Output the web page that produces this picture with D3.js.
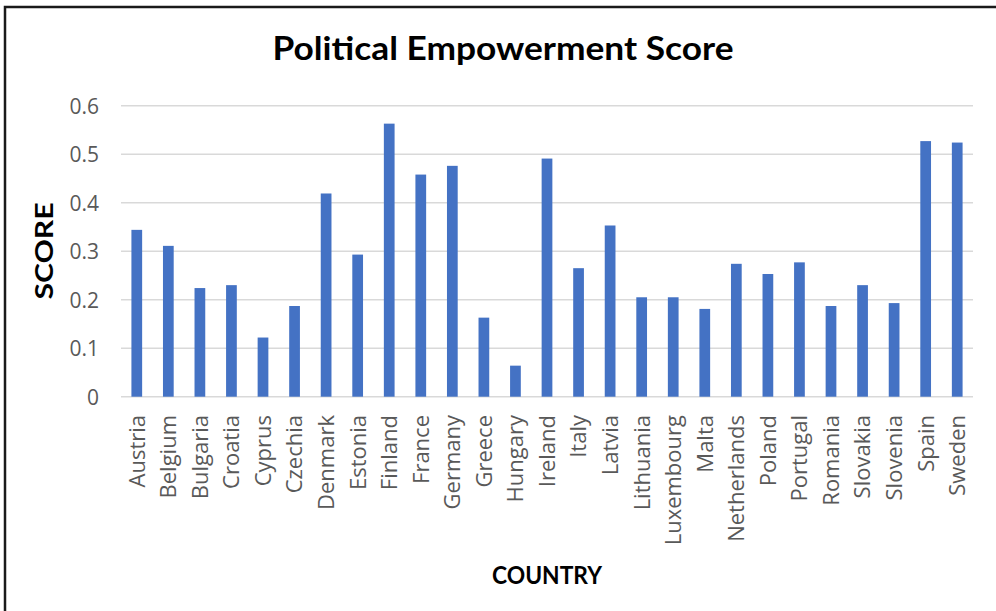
<!DOCTYPE html>
<html><head><meta charset="utf-8">
<script src="https://cdn.jsdelivr.net/npm/d3@7/dist/d3.min.js"></script>
<style>body{margin:0;background:#fff}svg{display:block}</style>
</head><body>
<script>
const countries = ["Austria","Belgium","Bulgaria","Croatia","Cyprus","Czechia","Denmark","Estonia","Finland","France","Germany","Greece","Hungary","Ireland","Italy","Latvia","Lithuania","Luxembourg","Malta","Netherlands","Poland","Portugal","Romania","Slovakia","Slovenia","Spain","Sweden"];
const scores = [0.344,0.311,0.224,0.230,0.122,0.187,0.419,0.293,0.563,0.458,0.476,0.163,0.064,0.491,0.265,0.353,0.205,0.205,0.181,0.274,0.253,0.277,0.187,0.230,0.193,0.527,0.524];
const yTicks = [0,0.1,0.2,0.3,0.4,0.5,0.6];
const title = "Political Empowerment Score";
const xTitle = "COUNTRY";
const yTitle = "SCORE";

const W = 996, H = 611;
const svg = d3.select("body").append("svg").attr("width", W).attr("height", H);

// frame (left and top edges)
svg.append("path").attr("d", `M5,${H} L5,7 L${W},7`).attr("fill","none").attr("stroke","#1a1a1a").attr("stroke-width",2.5);

const x = d3.scaleBand().domain(countries).range([121, 973]).paddingInner(0.66).paddingOuter(0.33);
const y = d3.scaleLinear().domain([0, 0.6]).range([396.7, 105.7]);

// gridlines
svg.append("g").selectAll("line").data(yTicks).join("line")
  .attr("x1", 121).attr("x2", 973)
  .attr("y1", d => y(d)).attr("y2", d => y(d))
  .attr("stroke", "#d9d9d9").attr("stroke-width", 1.5);

// y axis labels
const yAxis = d3.axisLeft(y).tickValues(yTicks).tickSize(0).tickPadding(0)
  .tickFormat(d => d === 0 ? "0" : d3.format(".1f")(d));
const gy = svg.append("g").attr("transform", "translate(99,0)").call(yAxis);
gy.select(".domain").remove();
gy.selectAll("text").attr("font-family","'Open Sans', sans-serif").attr("font-size",21).attr("fill","#595959").attr("dy","0.35em");

// bars
svg.append("g").selectAll("rect").data(countries).join("rect")
  .attr("x", d => x(d)).attr("width", x.bandwidth())
  .attr("y", (d,i) => y(scores[i])).attr("height", (d,i) => y(0) - y(scores[i]))
  .attr("fill", "#4472c4");

// x axis labels
const xAxis = d3.axisBottom(x).tickSize(0).tickPadding(0);
const gx = svg.append("g").attr("transform", "translate(0,415)").call(xAxis);
gx.select(".domain").remove();
gx.selectAll("text")
  .attr("font-family","'Open Sans', sans-serif").attr("font-size",22).attr("fill","#595959")
  .attr("text-anchor","end").attr("transform","rotate(-90)").attr("x",0).attr("y",0).attr("dy","0.36em");

// titles
svg.append("text").attr("x", 503).attr("y", 60).attr("text-anchor","middle")
  .attr("font-family","Lato, sans-serif").attr("font-weight","bold").attr("font-size",33)
  .attr("textLength", 461).attr("lengthAdjust","spacingAndGlyphs").attr("fill","#000").text(title);
svg.append("text").attr("x", 547).attr("y", 584).attr("text-anchor","middle")
  .attr("font-family","Lato, sans-serif").attr("font-weight","bold").attr("font-size",25)
  .attr("textLength", 110).attr("lengthAdjust","spacingAndGlyphs").attr("fill","#000").text(xTitle);
svg.append("text").attr("transform","translate(53,251) rotate(-90)").attr("text-anchor","middle")
  .attr("font-family","Lato, sans-serif").attr("font-weight","bold").attr("font-size",25)
  .attr("textLength", 97).attr("lengthAdjust","spacingAndGlyphs").attr("fill","#000").text(yTitle);
</script>
</body></html>
